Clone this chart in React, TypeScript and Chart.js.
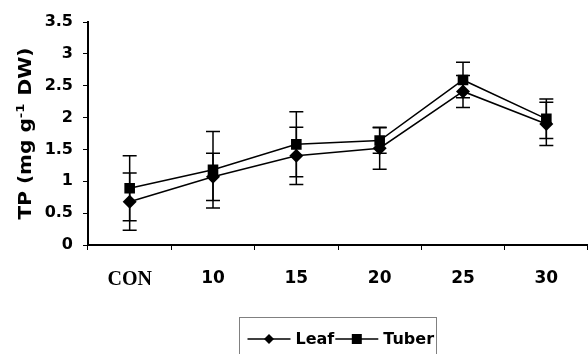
import React, { useEffect, useRef } from "react";
import { Chart, registerables } from "chart.js";

Chart.register(...registerables);

const categories = ["CON", "10", "15", "20", "25", "30"];
const leafValues = [0.68, 1.07, 1.4, 1.52, 2.41, 1.9];
const leafErrors = [0.45, 0.37, 0.45, 0.33, 0.25, 0.34];
const tuberValues = [0.89, 1.18, 1.58, 1.64, 2.59, 1.98];
const tuberErrors = [0.51, 0.6, 0.51, 0.2, 0.28, 0.31];
const yTicks = [0, 0.5, 1, 1.5, 2, 2.5, 3, 3.5];
const seriesNames = ["Leaf", "Tuber"];
const yTitleParts = ["TP (mg g", "-1", " DW)"];

const SANS = '"DejaVu Sans", sans-serif';
const SERIF = '"Liberation Serif", "Times New Roman", serif';

const errorBarsPlugin = {
  id: "errorBars",
  beforeDatasetsDraw(chart: any) {
    const { ctx } = chart;
    const x = chart.scales.x;
    const y = chart.scales.y;
    ctx.save();
    ctx.strokeStyle = "#000";
    ctx.lineWidth = 1.5;
    chart.data.datasets.forEach((ds: any) => {
      const errs: number[] = ds.errors || [];
      ds.data.forEach((v: number, i: number) => {
        const e = errs[i];
        if (e == null) return;
        const px = x.getPixelForValue(i);
        const top = y.getPixelForValue(v + e);
        const bot = y.getPixelForValue(v - e);
        ctx.beginPath();
        ctx.moveTo(px, top);
        ctx.lineTo(px, bot);
        ctx.moveTo(px - 7, top);
        ctx.lineTo(px + 7, top);
        ctx.moveTo(px - 7, bot);
        ctx.lineTo(px + 7, bot);
        ctx.stroke();
      });
    });
    ctx.restore();
  },
};

const yTitlePlugin = {
  id: "yTitle",
  afterDraw(chart: any) {
    const { ctx, chartArea } = chart;
    const cy = (chartArea.top + chartArea.bottom) / 2;
    const main = `bold 17px ${SANS}`;
    const sup = `bold 11px ${SANS}`;
    ctx.save();
    ctx.font = main;
    const w1 = ctx.measureText(yTitleParts[0]).width;
    const w3 = ctx.measureText(yTitleParts[2]).width;
    ctx.font = sup;
    const w2 = ctx.measureText(yTitleParts[1]).width + 1;
    const total = w1 + w2 + w3;
    const s = 172 / total;
    ctx.translate(31, cy);
    ctx.rotate(-Math.PI / 2);
    ctx.scale(s, 1);
    ctx.fillStyle = "#000";
    ctx.textAlign = "left";
    ctx.textBaseline = "alphabetic";
    let xx = -total / 2;
    ctx.font = main;
    ctx.fillText(yTitleParts[0], xx, 0);
    xx += w1;
    ctx.font = sup;
    ctx.fillText(yTitleParts[1], xx, -7);
    xx += w2;
    ctx.font = main;
    ctx.fillText(yTitleParts[2], xx, 0);
    ctx.restore();
  },
};

function drawMarker(ctx: CanvasRenderingContext2D, style: string, x: number, y: number) {
  ctx.beginPath();
  if (style === "rectRot") {
    ctx.moveTo(x, y - 5);
    ctx.lineTo(x + 5, y);
    ctx.lineTo(x, y + 5);
    ctx.lineTo(x - 5, y);
    ctx.closePath();
  } else {
    ctx.rect(x - 5, y - 5, 10, 10);
  }
  ctx.fill();
}

const legendPlugin = {
  id: "boxLegend",
  afterDraw(chart: any) {
    const { ctx } = chart;
    const left = 239.5;
    const top = 317.5;
    ctx.save();
    ctx.strokeStyle = "#808080";
    ctx.lineWidth = 1;
    ctx.strokeRect(left, top, 197, 60);
    const ly = 339;
    ctx.fillStyle = "#000";
    ctx.strokeStyle = "#000";
    ctx.lineWidth = 1.5;
    ctx.font = `bold 16px ${SANS}`;
    ctx.textBaseline = "alphabetic";
    ctx.textAlign = "left";
    let x0 = left + 8;
    chart.data.datasets.forEach((ds: any) => {
      ctx.beginPath();
      ctx.moveTo(x0, ly);
      ctx.lineTo(x0 + 43, ly);
      ctx.stroke();
      drawMarker(ctx, ds.pointStyle, x0 + 21.5, ly);
      ctx.fillText(ds.label, x0 + 48, 344);
      x0 += 48 + ctx.measureText(ds.label).width + 1;
    });
    ctx.restore();
  },
};

export default function App() {
  const ref = useRef<HTMLCanvasElement | null>(null);

  useEffect(() => {
    if (!ref.current) return;
    const chart = new Chart(ref.current, {
      type: "line",
      data: {
        labels: categories,
        datasets: [
          {
            label: seriesNames[0],
            data: leafValues,
            errors: leafErrors,
            borderColor: "#000",
            backgroundColor: "#000",
            borderWidth: 1.5,
            pointStyle: "rectRot",
            pointRadius: 7,
            pointBackgroundColor: "#000",
            pointBorderWidth: 0,
            tension: 0,
          } as any,
          {
            label: seriesNames[1],
            data: tuberValues,
            errors: tuberErrors,
            borderColor: "#000",
            backgroundColor: "#000",
            borderWidth: 1.5,
            pointStyle: "rect",
            pointRadius: 7.5,
            pointBackgroundColor: "#000",
            pointBorderWidth: 0,
            tension: 0,
          } as any,
        ],
      },
      options: {
        responsive: false,
        animation: false,
        events: [],
        layout: { autoPadding: false, padding: { top: 22, left: 0, right: 0, bottom: 69 } },
        plugins: {
          legend: { display: false },
          tooltip: { enabled: false },
          title: { display: false },
        },
        scales: {
          x: {
            type: "category",
            offset: true,
            grid: {
              offset: true,
              drawOnChartArea: false,
              drawTicks: true,
              tickLength: 5,
              color: "#000",
              lineWidth: 1,
            },
            border: { display: true, color: "#000", width: 2 },
            ticks: {
              color: "#000",
              padding: 18,
              autoSkip: false,
              maxRotation: 0,
              font: (c: any) =>
                c.index === 0
                  ? { family: SERIF, size: 20, weight: "bold" }
                  : { family: SANS, size: 17, weight: "bold" },
            },
            afterFit(s: any) {
              s.height = 40;
              s.paddingLeft = 0;
              s.paddingRight = 0;
            },
          } as any,
          y: {
            min: 0,
            max: 3.5,
            afterBuildTicks(s: any) {
              s.ticks = yTicks.map((v) => ({ value: v }));
            },
            grid: {
              drawOnChartArea: false,
              drawTicks: true,
              tickLength: 5,
              color: "#000",
            },
            border: { display: true, color: "#000", width: 2 },
            ticks: {
              color: "#000",
              padding: 10,
              font: { family: SANS, size: 16, weight: "bold" },
              callback: (v: any) => String(v),
            },
            afterFit(s: any) {
              s.width = 88;
              s.paddingTop = 0;
              s.paddingBottom = 0;
            },
          } as any,
        },
      },
      plugins: [errorBarsPlugin, yTitlePlugin, legendPlugin],
    });
    return () => chart.destroy();
  }, []);

  return (
    <div style={{ position: "fixed", left: 0, top: 0, width: 588, height: 354, background: "#fff" }}>
      <canvas ref={ref} width={588} height={354} style={{ display: "block" }} />
    </div>
  );
}
